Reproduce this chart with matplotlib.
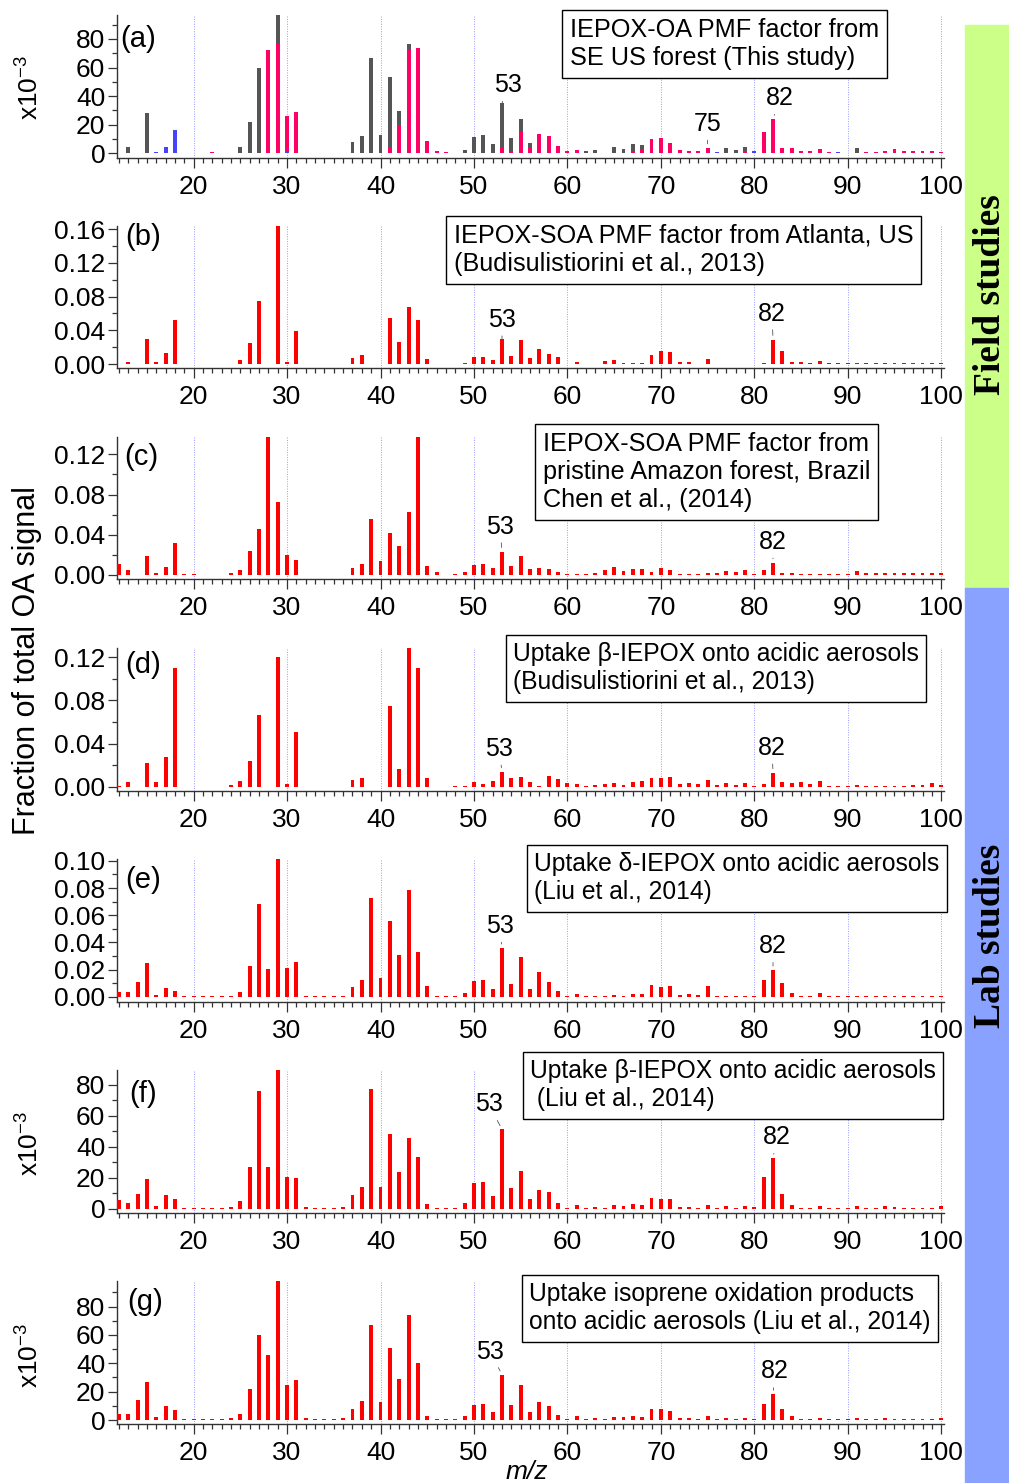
import numpy as np
import matplotlib
matplotlib.use('Agg')
import matplotlib.pyplot as plt
from matplotlib.ticker import MultipleLocator, FormatStrFormatter

W, H = 1009, 1483

mz = np.arange(12, 101)

# (a) SE US forest PMF factor, split by ion family (x10^-3)
#            m/z 12-19, then rows of ten (20-29, 30-39, ...), then 100
a_ho = [0, 0, 0.4, 0, 1.0, 4.4, 16.5, 0.4,
        0.4, 0.3, 0, 0, 0, 0, 0, 0, 0, 0,
        1.2, 0, 0.4, 0.3, 0.3, 0.3, 0.3, 0, 0, 0,
        0, 0, 0.3, 0, 0, 0.5, 0, 0, 0.3, 0,
        0, 0, 0, 0, 0, 0, 0, 0, 0, 0.3,
        0, 0, 0, 0, 0.5, 0, 0, 0, 0, 0,
        0, 0, 0, 0, 0, 0, 0.6, 0, 0, 0,
        1.5, 0, 0, 0, 0, 0, 0, 0, 0, 0.7,
        0.5, 0, 0, 0, 0, 0, 0, 0, 0, 0,
        0]
a_cxhyo = [0, 0, 0, 0, 0, 0, 0, 0,
           0, 0, 1.0, 0.3, 0, 0, 0, 0, 72.5, 76.7,
           25, 29, 0, 0, 0, 0, 0, 0, 0, 0,
           0, 4.4, 19.6, 72, 73.4, 8, 1.5, 1.0, 0, 0,
           0, 0, 0, 3.5, 1.5, 15.4, 4.7, 13.3, 12, 4.7,
           1.9, 2.3, 0, 0, 0, 0, 0, 1.0, 3.3, 10.3,
           11, 7, 2.6, 1.6, 1.6, 3.7, 0, 0, 0, 1.5,
           0, 15, 23.8, 4, 4, 1.9, 1.4, 3.3, 0.7, 0,
           0, 0, 0.8, 1.0, 1.4, 3.0, 1.9, 1.9, 1.6, 1.4,
           1.2]
a_cxhy = [0.3, 4.7, 0, 28, 0, 0, 0, 0,
          0, 0, 0, 0, 0.3, 4.4, 22, 60, 0, 23,
          0, 0, 0, 0, 0, 0, 0, 7.7, 12, 66.7,
          13, 49, 9.5, 4.5, 0, 0, 0, 0, 0, 2.5,
          11.4, 13, 6.5, 31.5, 9, 8.6, 2.3, 0, 0, 0,
          0, 0, 1.4, 2.6, 0, 4.4, 3.3, 5.5, 2.3, 0,
          0, 0, 0, 0, 0, 0, 0, 3.7, 2, 3.2,
          0, 0, 0, 0, 0, 0, 0, 0, 0, 0,
          0, 3.7, 0, 0, 0, 0, 0, 0, 0, 0,
          0]

# (b) Atlanta PMF factor
b_vals = [0, 0.002, 0, 0.0293, 0.002, 0.0127, 0.052, 0,
          0, 0, 0, 0, 0.0005, 0.0044, 0.0246, 0.0749, 0, 0.164,
          0.003, 0.0388, 0, 0, 0, 0, 0, 0.0071, 0.0107, 0,
          0, 0.0547, 0.0265, 0.0677, 0.052, 0.0055, 0, 0, 0.0003, 0.001,
          0.008, 0.0087, 0.0044, 0.030, 0.009, 0.029, 0.0075, 0.0174, 0.0123, 0.008,
          0.0005, 0.003, 0.0005, 0.0005, 0.004, 0.005, 0.0008, 0.0008, 0.0008, 0.0103,
          0.0155, 0.0143, 0.002, 0.002, 0.0006, 0.0055, 0.0005, 0.0005, 0.0005, 0.0005,
          0.0005, 0.0015, 0.029, 0.0158, 0.0028, 0.0024, 0.0008, 0.004, 0.0008, 0.0008,
          0.0008, 0.0008, 0.0008, 0.0008, 0.0012, 0.0008, 0.0012, 0.0008, 0.0012, 0.0015,
          0.0018]

# (c) Amazon PMF factor
c_vals = [0.0106, 0.0046, 0, 0.0192, 0.002, 0.0076, 0.0314, 0.0008,
          0.0008, 0, 0, 0, 0.002, 0.005, 0.0235, 0.046, 0.14, 0.0724,
          0.020, 0.0149, 0, 0, 0, 0, 0, 0.0069, 0.0106, 0.0552,
          0.0142, 0.042, 0.029, 0.063, 0.14, 0.0086, 0.0026, 0, 0.0008, 0.0026,
          0.0096, 0.0106, 0.0066, 0.0232, 0.009, 0.0185, 0.0056, 0.0073, 0.0063, 0.0026,
          0.0007, 0.0008, 0.0013, 0.002, 0.0053, 0.008, 0.0036, 0.006, 0.006, 0.0033,
          0.0073, 0.0046, 0.0008, 0.0005, 0.0008, 0.0016, 0.002, 0.0043, 0.0026, 0.005,
          0.0008, 0.0046, 0.012, 0.0023, 0.0023, 0.001, 0.001, 0.001, 0.001, 0.001,
          0.001, 0.004, 0.0015, 0.002, 0.0015, 0.002, 0.0015, 0.0015, 0.002, 0.0015,
          0.0015]

# (d) beta-IEPOX uptake, Budisulistiorini et al.
d_vals = [0.0005, 0.0047, 0, 0.0223, 0.0047, 0.0276, 0.110, 0,
          0, 0, 0, 0, 0.0015, 0.0056, 0.0236, 0.0667, 0, 0.1206,
          0.0028, 0.0505, 0, 0, 0, 0, 0, 0.0059, 0.0078, 0,
          0, 0.0744, 0.0161, 0.130, 0.110, 0.0078, 0, 0, 0.0005, 0.001,
          0.004, 0.0028, 0.005, 0.0136, 0.008, 0.009, 0.0043, 0.0005, 0.0099, 0.0071,
          0.0034, 0.0025, 0.0008, 0.0012, 0.0025, 0.003, 0.0019, 0.0046, 0.005, 0.0077,
          0.0084, 0.0087, 0.0028, 0.0034, 0.0028, 0.0059, 0.0016, 0.0037, 0.0019, 0.0034,
          0.0008, 0.0025, 0.0127, 0.0043, 0.0034, 0.0043, 0.0022, 0.0053, 0.0008, 0.0008,
          0.0008, 0.0019, 0.0008, 0.0008, 0.0008, 0.0008, 0.0008, 0.0015, 0.0019, 0.003,
          0.0019]

# (e) delta-IEPOX uptake, Liu et al.
e_vals = [0.0034, 0.0034, 0.0108, 0.025, 0.0017, 0.0069, 0.0042, 0.0005,
          0.0005, 0.0005, 0.0005, 0.0005, 0.0008, 0.0037, 0.023, 0.068, 0.0206, 0.1012,
          0.0213, 0.0257, 0.001, 0.0005, 0.0005, 0.0005, 0.0008, 0.0076, 0.0127, 0.0723,
          0.0142, 0.0556, 0.0309, 0.0789, 0.0331, 0.0081, 0.0005, 0.0005, 0.0005, 0.0027,
          0.012, 0.0123, 0.0056, 0.0358, 0.0098, 0.0297, 0.0061, 0.0186, 0.0108, 0.0044,
          0.0007, 0.002, 0.0005, 0.0005, 0.0005, 0.0012, 0.001, 0.0025, 0.002, 0.0091,
          0.0076, 0.0083, 0.0015, 0.0022, 0.0012, 0.0081, 0.0006, 0.0006, 0.0006, 0.0006,
          0.0005, 0.0127, 0.0196, 0.0105, 0.0029, 0.001, 0.0005, 0.0027, 0.0006, 0.0006,
          0.0006, 0.0006, 0.0006, 0.0006, 0.0006, 0.0006, 0.0006, 0.0006, 0.0006, 0.0006,
          0.0006]

# (f) beta-IEPOX uptake, Liu et al. (x10^-3)
f_vals = [5.6, 3.9, 9.9, 19.4, 2.2, 9.2, 6.2, 0.5,
          0.5, 0.5, 0.5, 0.5, 1.5, 4.9, 27, 75.7, 26.9, 89.5,
          20.4, 20, 1.5, 0.5, 0.5, 0.5, 1.3, 9.2, 14.4, 77,
          14, 48, 23.9, 45.4, 33.5, 3, 0.7, 0.7, 0.7, 3.9,
          17, 17.6, 8.2, 51.2, 13.5, 24.3, 6.7, 12.3, 11, 3.7,
          0.7, 2.8, 0.8, 1.5, 0.7, 2.4, 1.9, 3.4, 2.6, 7.1,
          6.7, 6.5, 1.3, 1.3, 0.7, 2.8, 0.7, 2.2, 0.8, 2.2,
          1.1, 20.4, 32.7, 9.7, 2.8, 0.7, 0.7, 1.7, 0.7, 0.7,
          0.7, 2.2, 0.7, 0.7, 1.7, 1.1, 0.7, 0.7, 0.7, 0.7,
          2.2]

# (g) isoprene oxidation products uptake, Liu et al. (x10^-3)
g_vals = [4, 4, 14, 27, 2, 10, 7, 0.5,
          0.5, 0.5, 0.5, 0.5, 1.5, 4.5, 22, 60, 46, 100,
          25, 28, 1.5, 0.5, 0.5, 0.5, 1.5, 8, 13.5, 67,
          13, 51, 29, 74, 40, 3, 0.7, 0.7, 0.7, 2.5,
          10.5, 11.5, 6, 32, 10.5, 25, 5.5, 13, 10, 3.5,
          0.7, 2.5, 0.7, 1.5, 0.7, 2, 2, 2.5, 2, 7.5,
          7.5, 6.5, 1.5, 1.5, 0.7, 2.5, 0.7, 1.5, 0.7, 1.5,
          0.7, 11.5, 18, 7.5, 2.5, 1, 1, 1.5, 0.7, 0.7,
          0.7, 1.5, 0.7, 0.7, 1.2, 0.7, 0.7, 0.7, 0.7, 0.7,
          1.5]

box_texts = [
    'IEPOX-OA PMF factor from\nSE US forest (This study)',
    'IEPOX-SOA PMF factor from Atlanta, US\n(Budisulistiorini et al., 2013)',
    'IEPOX-SOA PMF factor from\npristine Amazon forest, Brazil\nChen et al., (2014)',
    'Uptake \u03b2-IEPOX onto acidic aerosols\n(Budisulistiorini et al., 2013)',
    'Uptake \u03b4-IEPOX onto acidic aerosols\n(Liu et al., 2014)',
    'Uptake \u03b2-IEPOX onto acidic aerosols\n (Liu et al., 2014)',
    'Uptake isoprene oxidation products\nonto acidic aerosols (Liu et al., 2014)',
]
panel_tags = ['(a)', '(b)', '(c)', '(d)', '(e)', '(f)', '(g)']
labelled_mz = [[53, 75, 82], [53, 82], [53, 82], [53, 82], [53, 82], [53, 82], [53, 82]]

RED = '#ff0000'
GREY = '#555555'
PINK = '#ff0066'
BLUE = '#4444ff'


def fx(px):
    return px / W


def fy(px):
    return 1 - px / H


def main():
    plt.rcParams['font.family'] = ['Liberation Sans', 'DejaVu Sans']
    plt.rcParams['mathtext.fontset'] = 'custom'
    plt.rcParams['mathtext.rm'] = 'Liberation Sans'
    plt.rcParams['mathtext.it'] = 'Liberation Sans:italic'

    fig = plt.figure(figsize=(W / 100, H / 100), dpi=100)

    # coloured side bands: field vs lab
    fig.add_artist(plt.Rectangle((fx(965), fy(588)), 1 - fx(965), fy(25) - fy(588),
                                 transform=fig.transFigure, color='#ccff88', zorder=0))
    fig.add_artist(plt.Rectangle((fx(965), 0), 1 - fx(965), fy(588),
                                 transform=fig.transFigure, color='#8aa2ff', zorder=0))
    fig.text(fx(990), fy(295), 'Field studies', rotation=90, ha='center', va='center',
             family='Liberation Serif', weight='bold', fontsize=27)
    fig.text(fx(990), fy(936), 'Lab studies', rotation=90, ha='center', va='center',
             family='Liberation Serif', weight='bold', fontsize=27)

    stacks = [
        [(a_ho, BLUE), (a_cxhyo, PINK), (a_cxhy, GREY)],
        [(b_vals, RED)], [(c_vals, RED)], [(d_vals, RED)],
        [(e_vals, RED)], [(f_vals, RED)], [(g_vals, RED)],
    ]

    # layout in pixels
    tops = [15, 226, 437, 648, 859, 1070, 1281]
    bottoms = [158, 368, 579, 791, 1002, 1213, 1424]
    ylims = [(-3.3, 96.8), (-0.0047, 0.1636), (-0.004, 0.1372), (-0.0041, 0.1287),
             (-0.0037, 0.1013), (-2.6, 89.5), (-2.8, 98)]
    ysteps = [(20, 10), (0.04, 0.02), (0.04, 0.02), (0.04, 0.02),
              (0.02, 0.01), (20, 10), (20, 10)]
    yfmt = ['%d', '%.2f', '%.2f', '%.2f', '%.2f', '%d', '%d']
    box_pos = [(563, 11), (447, 217), (536, 425), (506, 635), (527, 845), (523, 1052), (522, 1275)]
    box_size = [18.2, 18.2, 18.2, 17.7, 17.7, 17.7, 17.7]
    tag_pos = [(120, 25), (125, 223), (124, 443), (125, 651), (125, 866), (129, 1080), (127, 1288)]
    # (dx, gap) in pixels for the peak labels
    peak_off = [[(6, 10), (0, 16), (7, 13)], [(0, 11), (-1, 18)], [(-2, 17), (0, 13)],
                [(-3, 15), (-1, 17)], [(-2, 14), (0, 16)], [(-13, 17), (4, 13)],
                [(-12, 15), (2, 15)]]

    for i in range(7):
        ax = fig.add_axes([fx(117), fy(bottoms[i]), fx(944) - fx(117),
                           (bottoms[i] - tops[i]) / H])
        base = np.zeros(len(mz))
        for vals, col in stacks[i]:
            vals = np.asarray(vals, dtype=float)
            ax.bar(mz, vals, width=0.42, bottom=base, color=col, linewidth=0, zorder=3)
            base = base + vals

        ax.set_xlim(11.8, 100.3)
        ax.xaxis.set_major_locator(MultipleLocator(10))
        ax.xaxis.set_minor_locator(MultipleLocator(1))
        ax.yaxis.set_major_locator(MultipleLocator(ysteps[i][0]))
        ax.yaxis.set_minor_locator(MultipleLocator(ysteps[i][1]))
        ax.yaxis.set_major_formatter(FormatStrFormatter(yfmt[i]))
        ax.set_ylim(*ylims[i])

        ax.grid(axis='x', which='major', color='#9a9aff', linestyle=(0, (1, 1.5)),
                linewidth=0.7, zorder=0)
        ax.set_axisbelow(True)
        for side in ['top', 'right']:
            ax.spines[side].set_visible(False)
        for side in ['left', 'bottom']:
            ax.spines[side].set_linewidth(1.0)
            ax.spines[side].set_color('#333333')
        ax.tick_params(axis='both', which='both', direction='out', colors='#333333',
                       labelcolor='black', labelsize=19, width=0.9)
        ax.tick_params(axis='x', which='major', length=7, pad=5)
        ax.tick_params(axis='x', which='minor', length=3.8)
        ax.tick_params(axis='y', which='major', length=6.5, pad=2)
        ax.tick_params(axis='y', which='minor', length=3.8)

        fig.text(fx(tag_pos[i][0]), fy(tag_pos[i][1]), panel_tags[i],
                 ha='left', va='top', fontsize=21)

        bx, by = box_pos[i]
        fig.text(fx(bx + 7), fy(by + 7), box_texts[i], ha='left', va='top',
                 fontsize=box_size[i], linespacing=1.22,
                 bbox=dict(boxstyle='square,pad=0.3', fc='white', ec='black', lw=1.0))

        for m, (dx, gap) in zip(labelled_mz[i], peak_off[i]):
            top = base[m - 12]
            ax.annotate(str(m), xy=(m, top), xytext=(dx * 0.72, (gap - 4) * 0.72),
                        textcoords='offset points', ha='center', va='bottom', fontsize=18,
                        arrowprops=dict(arrowstyle='-', color='#555555', lw=0.6,
                                        shrinkA=1, shrinkB=3))

    # shared axis labels
    fig.text(fx(27), fy(661), 'Fraction of total OA signal', rotation=90,
             ha='center', va='center', fontsize=22)
    for yc in [87, 1143, 1355]:
        fig.text(fx(30), fy(yc), 'x10$^{-3}$', rotation=90, ha='center', va='center',
                 fontsize=19)
    fig.text(fx(527), fy(1472), 'm/z', style='italic', ha='center', va='center', fontsize=19)

    fig.savefig('out.png', dpi=100)


if __name__ == '__main__':
    main()
